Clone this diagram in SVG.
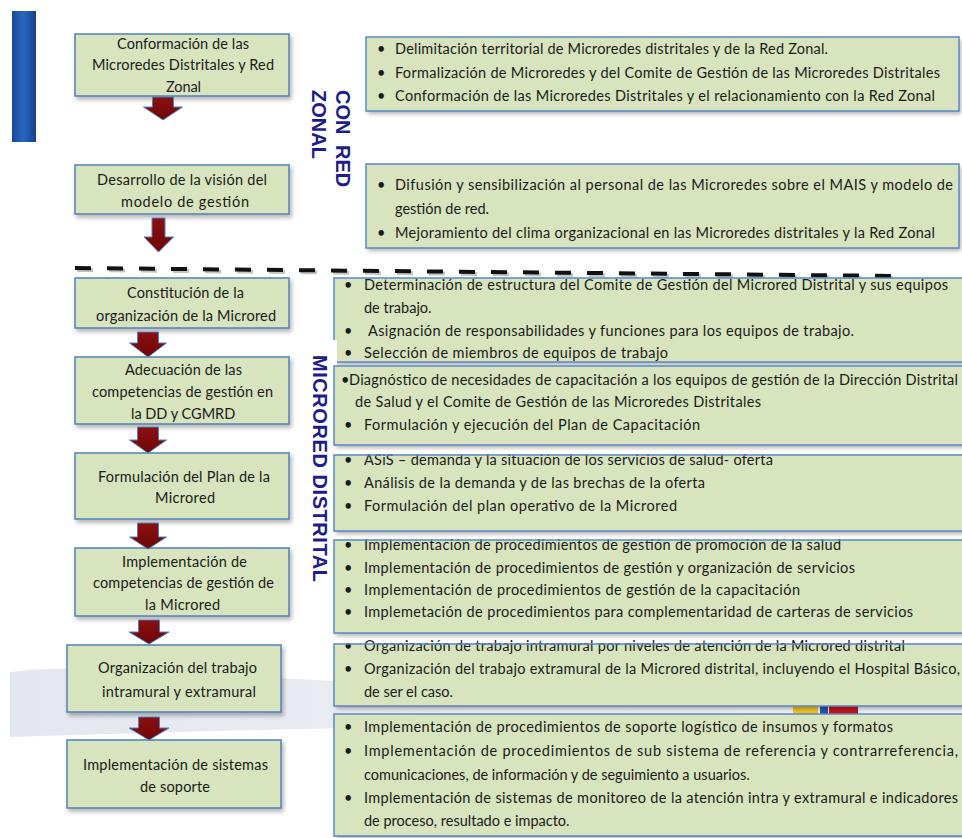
<svg xmlns="http://www.w3.org/2000/svg" width="962" height="838" viewBox="0 0 962 838">
<defs>
<style>
.bg{fill:#ffffff}
.lb{fill:#d7e4bd;stroke:#4f81bd;stroke-width:1.5;filter:url(#sh)}
.rb{fill:#d7e4bd;filter:url(#sh)}
.rbs{fill:none;stroke:#5a88c6;stroke-width:1.5}
.t{font-family:Lato,"Liberation Sans",sans-serif;font-size:14.5px;fill:#1a1a1a}
.v{font-family:"Liberation Sans",Arial,sans-serif;font-weight:bold;font-size:20px;fill:#1c1c8c}
.arr{fill:url(#ag);stroke:#4f81bd;stroke-width:1}
.dash{fill:none;stroke:#111;stroke-width:4;stroke-dasharray:16 16}
.dashs{fill:none;stroke:#c4c4c4;stroke-width:4;stroke-dasharray:16 16}
</style>
<filter id="sh" x="-5%" y="-10%" width="115%" height="140%">
<feDropShadow dx="2" dy="3" stdDeviation="2" flood-color="#000" flood-opacity="0.3"/>
</filter>
<linearGradient id="ag" x1="0" y1="0" x2="0" y2="1">
<stop offset="0" stop-color="#8c1010"/>
<stop offset="1" stop-color="#6e0606"/>
</linearGradient>
<linearGradient id="bar" x1="0" y1="0" x2="1" y2="0">
<stop offset="0" stop-color="#174a9a"/>
<stop offset="0.45" stop-color="#2a66c0"/>
<stop offset="0.7" stop-color="#1f58ad"/>
<stop offset="1" stop-color="#163f88"/>
</linearGradient>
<linearGradient id="sw" x1="0" y1="0" x2="1" y2="0">
<stop offset="0" stop-color="#e4e7ef"/>
<stop offset="0.5" stop-color="#eceef4"/>
<stop offset="1" stop-color="#f3f4f8"/>
</linearGradient>
</defs>
<rect class="bg" x="0" y="0" width="962" height="838"/>
<!-- background decoration -->
<path d="M10,672 C120,658 250,690 962,700 L962,722 C500,722 250,730 10,737 Z" fill="url(#sw)"/>
<rect x="793" y="704" width="25" height="12" fill="#f2c21a"/>
<rect x="820" y="704" width="8" height="12" fill="#2456a8"/>
<rect x="829" y="704" width="29" height="12" fill="#c8121a"/>
<rect x="12" y="11" width="24" height="131" fill="url(#bar)"/>

<!-- dashed separator -->
<line class="dashs" x1="77" y1="270" x2="902" y2="278"/>
<line class="dash" x1="75" y1="268" x2="900" y2="276"/>

<!-- left nodes -->
<g id="n1"><rect class="lb" x="75" y="34" width="214" height="62"/>
<text class="t" x="117" y="49" textLength="132" lengthAdjust="spacing">Conformación de las</text>
<text class="t" x="92" y="70" textLength="182" lengthAdjust="spacing">Microredes Distritales y Red</text>
<text class="t" x="166" y="92" textLength="35" lengthAdjust="spacing">Zonal</text></g>
<g id="n2"><rect class="lb" x="75" y="165" width="214" height="49"/>
<text class="t" x="97" y="185" textLength="170" lengthAdjust="spacing">Desarrollo de la visión del</text>
<text class="t" x="121" y="207" textLength="128" lengthAdjust="spacing">modelo de gestión</text></g>
<g id="n3"><rect class="lb" x="75" y="278" width="214" height="50"/>
<text class="t" x="127" y="298" textLength="117" lengthAdjust="spacing">Constitución de la</text>
<text class="t" x="96" y="321" textLength="180" lengthAdjust="spacing">organización de la Microred</text></g>
<g id="n4"><rect class="lb" x="75" y="357" width="214" height="67"/>
<text class="t" x="125" y="375" textLength="117" lengthAdjust="spacing">Adecuación de las</text>
<text class="t" x="92" y="397" textLength="181" lengthAdjust="spacing">competencias de gestión en</text>
<text class="t" x="131" y="419">la DD y CGMRD</text></g>
<g id="n5"><rect class="lb" x="75" y="453" width="214" height="66"/>
<text class="t" x="98" y="482" textLength="172" lengthAdjust="spacing">Formulación del Plan de la</text>
<text class="t" x="155" y="503" textLength="60" lengthAdjust="spacing">Microred</text></g>
<g id="n6"><rect class="lb" x="75" y="548" width="214" height="68"/>
<text class="t" x="122" y="567" textLength="125" lengthAdjust="spacing">Implementación de</text>
<text class="t" x="93" y="588" textLength="181" lengthAdjust="spacing">competencias de gestión de</text>
<text class="t" x="145" y="610" textLength="75" lengthAdjust="spacing">la Microred</text></g>
<g id="n7"><rect class="lb" x="67" y="645" width="214" height="67"/>
<text class="t" x="98" y="673" textLength="159" lengthAdjust="spacing">Organización del trabajo</text>
<text class="t" x="102" y="697" textLength="154" lengthAdjust="spacing">intramural y extramural</text></g>
<g id="n8"><rect class="lb" x="67" y="740" width="214" height="68"/>
<text class="t" x="83" y="770" textLength="185" lengthAdjust="spacing">Implementación de sistemas</text>
<text class="t" x="140" y="792" textLength="70" lengthAdjust="spacing">de soporte</text></g>

<!-- connectors -->
<g id="connectors">
<path class="arr" d="M152.5,97 H173.5 V107 H182.5 L163,120 L143.5,107 H152.5 Z"/>
<path class="arr" d="M152,218 H165 V237 H173.5 L158.5,252 L144,237 H152 Z"/>
<path class="arr" d="M137.5,332 H158.5 V343 H166.5 L148,357 L129.5,343 H137.5 Z"/>
<path class="arr" d="M137.5,427 H158.5 V440 H166.5 L148,453 L129.5,440 H137.5 Z"/>
<path class="arr" d="M137.5,523 H158.5 V537 H166.5 L148,549 L129.5,537 H137.5 Z"/>
<path class="arr" d="M138.5,620 H159.5 V632 H169 L149,644 L129,632 H138.5 Z"/>
<path class="arr" d="M138.5,717 H159.5 V728 H169 L149,740 L129,728 H138.5 Z"/>
</g>

<!-- vertical section labels -->
<g id="lbl-zonal">
<text class="v" transform="translate(336,90) rotate(90)"><tspan x="0">CON</tspan><tspan x="55">RED</tspan></text>
<text class="v" transform="translate(312,90) rotate(90)">ZONAL</text>
</g>

<!-- right nodes -->
<g id="r1"><rect class="rb" x="366" y="37" width="593" height="74"/>
<text class="t" x="377" y="54">•</text><text class="t" x="395" y="54" textLength="433" lengthAdjust="spacing">Delimitación territorial de Microredes distritales y de la Red Zonal.</text>
<text class="t" x="377" y="78">•</text><text class="t" x="395" y="78" textLength="545" lengthAdjust="spacing">Formalización de Microredes y del Comite de Gestión de las Microredes Distritales</text>
<text class="t" x="377" y="101">•</text><text class="t" x="395" y="101" textLength="540" lengthAdjust="spacing">Conformación de las Microredes Distritales y el relacionamiento con la Red Zonal</text>
<rect class="rbs" x="366" y="37" width="593" height="74"/></g>

<g id="r2"><rect class="rb" x="366" y="164" width="593" height="84"/>
<text class="t" x="377" y="190">•</text><text class="t" x="395" y="190" textLength="558" lengthAdjust="spacing">Difusión y sensibilización al personal de las Microredes sobre el MAIS y modelo de</text>
<text class="t" x="395" y="214">gestión de red.</text>
<text class="t" x="377" y="238">•</text><text class="t" x="395" y="238" textLength="540" lengthAdjust="spacing">Mejoramiento del clima organizacional en las Microredes distritales y la Red Zonal</text>
<rect class="rbs" x="366" y="164" width="593" height="84"/></g>

<g id="r3"><rect class="rb" x="334" y="278" width="632" height="84"/>
<text class="t" x="344" y="290">•</text><text class="t" x="364" y="290" textLength="584" lengthAdjust="spacing">Determinación de estructura del Comite de Gestión del Microred Distrital y sus equipos</text>
<text class="t" x="364" y="313">de trabajo.</text>
<text class="t" x="344" y="336">•</text><text class="t" x="368" y="336" textLength="486" lengthAdjust="spacing">Asignación de responsabilidades y funciones para los equipos de trabajo.</text>
<text class="t" x="344" y="358">•</text><text class="t" x="364" y="358" textLength="304" lengthAdjust="spacing">Selección de miembros de equipos de trabajo</text>
<rect class="rbs" x="334" y="278" width="632" height="84"/></g>

<g id="lbl-distrital">
<rect x="303" y="340" width="34" height="273" fill="#ffffff"/>
<text class="v" transform="translate(313,355) rotate(90)" textLength="227" lengthAdjust="spacing">MICRORED DISTRITAL</text>
</g>

<g id="r4"><rect class="rb" x="334" y="366" width="632" height="79"/>
<text class="t" x="341" y="385" font-size="11">•</text><text class="t" x="349" y="385" textLength="609" lengthAdjust="spacing">Diagnóstico de necesidades de capacitación a los equipos de gestión de la Dirección Distrital</text>
<text class="t" x="355" y="407" textLength="406" lengthAdjust="spacing">de Salud y el Comite de Gestión de las Microredes Distritales</text>
<text class="t" x="344" y="430">•</text><text class="t" x="364" y="430" textLength="336" lengthAdjust="spacing">Formulación y ejecución del Plan de Capacitación</text>
<rect class="rbs" x="334" y="366" width="632" height="79"/></g>

<g id="r5"><rect class="rb" x="334" y="455" width="632" height="76"/>
<text class="t" x="344" y="465">•</text><text class="t" x="364" y="465" textLength="409" lengthAdjust="spacing">ASiS – demanda y la situación de los servicios de salud- oferta</text>
<text class="t" x="344" y="488">•</text><text class="t" x="364" y="488" textLength="341" lengthAdjust="spacing">Análisis de la demanda y de las brechas de la oferta</text>
<text class="t" x="344" y="511">•</text><text class="t" x="364" y="511" textLength="313" lengthAdjust="spacing">Formulación del plan operativo de la Microred</text>
<rect class="rbs" x="334" y="455" width="632" height="76"/></g>

<g id="r6"><rect class="rb" x="334" y="540" width="632" height="93"/>
<text class="t" x="344" y="550">•</text><text class="t" x="364" y="550" textLength="477" lengthAdjust="spacing">Implementación de procedimientos de gestión de promoción de la salud</text>
<text class="t" x="344" y="573">•</text><text class="t" x="364" y="573" textLength="491" lengthAdjust="spacing">Implementación de procedimientos de gestión y organización de servicios</text>
<text class="t" x="344" y="595">•</text><text class="t" x="364" y="595" textLength="436" lengthAdjust="spacing">Implementación de procedimientos de gestión de la capacitación</text>
<text class="t" x="344" y="617">•</text><text class="t" x="364" y="617" textLength="549" lengthAdjust="spacing">Implemetación de procedimientos para complementaridad de carteras de servicios</text>
<rect class="rbs" x="334" y="540" width="632" height="93"/></g>

<g id="r7"><rect class="rb" x="334" y="644" width="632" height="62"/>
<text class="t" x="344" y="651">•</text><text class="t" x="364" y="651" textLength="541" lengthAdjust="spacing">Organización de trabajo intramural por niveles de atención de la Microred distrital</text>
<text class="t" x="344" y="674">•</text><text class="t" x="364" y="674" textLength="596" lengthAdjust="spacing">Organización del trabajo extramural de la Microred distrital, incluyendo el Hospital Básico,</text>
<text class="t" x="364" y="697">de ser el caso.</text>
<rect class="rbs" x="334" y="644" width="632" height="62"/></g>

<g id="r8"><rect class="rb" x="334" y="714" width="632" height="122"/>
<text class="t" x="344" y="732">•</text><text class="t" x="364" y="732" textLength="529" lengthAdjust="spacing">Implementación de procedimientos de soporte logístico de insumos y formatos</text>
<text class="t" x="344" y="756">•</text><text class="t" x="364" y="756" textLength="594" lengthAdjust="spacing">Implementación de procedimientos de sub sistema de referencia y contrarreferencia,</text>
<text class="t" x="364" y="780">comunicaciones, de información y de seguimiento a usuarios.</text>
<text class="t" x="344" y="803">•</text><text class="t" x="364" y="803" textLength="594" lengthAdjust="spacing">Implementación de sistemas de monitoreo de la atención intra y extramural e indicadores</text>
<text class="t" x="364" y="826">de proceso, resultado e impacto.</text>
<rect class="rbs" x="334" y="714" width="632" height="122"/></g>
</svg>
